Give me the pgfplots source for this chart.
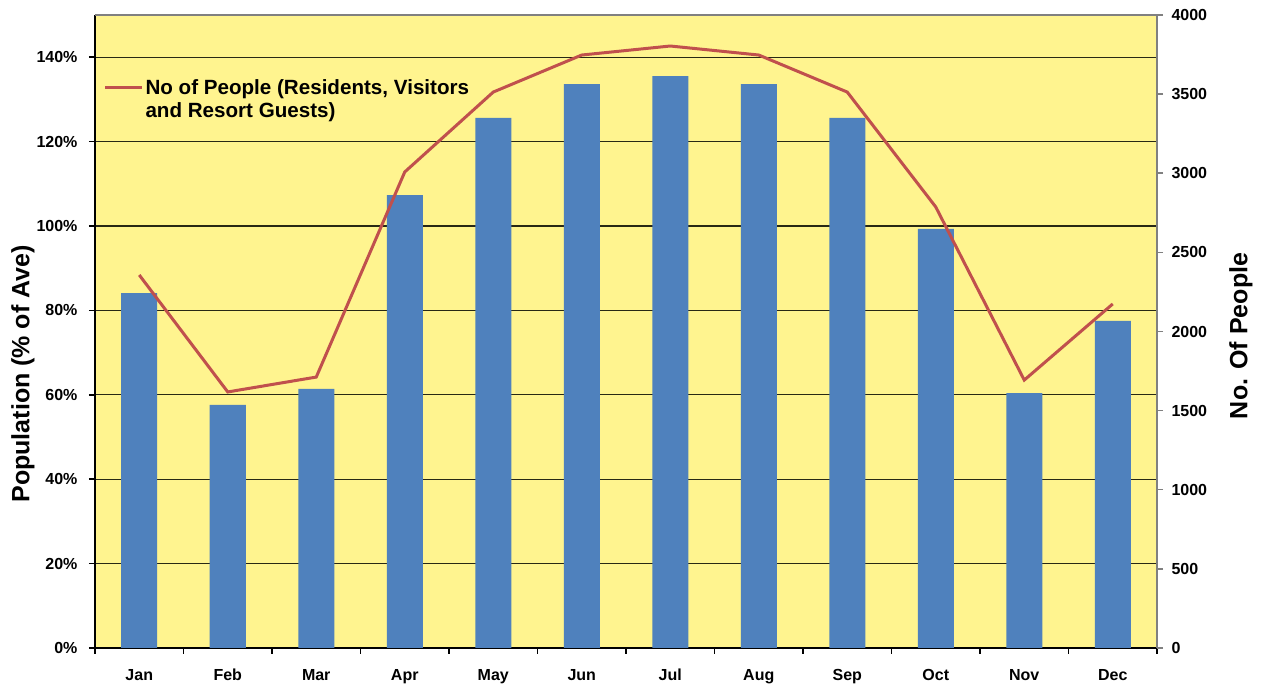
\documentclass[border=0pt]{standalone}
\usepackage{pgfplots}
\pgfplotsset{compat=1.18}
\usepackage{fontspec}
\setmainfont{Liberation Sans}
\definecolor{bgy}{RGB}{255,244,143}
\definecolor{barblue}{RGB}{79,129,189}
\definecolor{linered}{RGB}{192,80,77}
\definecolor{gridc}{RGB}{40,40,20}
\begin{document}
\begin{tikzpicture}
\path[use as bounding box] (-95pt,-36pt) rectangle (1171pt,648pt);
\begin{axis}[
  at={(0pt,0pt)}, anchor=south west,
  scale only axis, width=1062pt, height=633pt,
  xmin=-0.5, xmax=11.5, ymin=0, ymax=150,
  axis x line*=bottom, axis y line*=left,
  axis line style={line width=2.5pt, black, -},
  axis background/.style={fill=bgy},
  xtick={-0.5,0.5,...,11.5},
  x tick label as interval,
  xticklabels={Jan,Feb,Mar,Apr,May,Jun,Jul,Aug,Sep,Oct,Nov,Dec},
  ytick={0,20,...,140},
  yticklabels={0\%,20\%,40\%,60\%,80\%,100\%,120\%,140\%},
  tick align=outside, major tick length=6pt,
  tick style={black, line width=1.5pt},
  ymajorgrids, major grid style={gridc, line width=1.3pt},
  tick label style={font=\fontsize{16}{19}\selectfont\bfseries},
  yticklabel style={xshift=-8pt},
  xticklabel style={yshift=-11pt, text height=12pt, text depth=3pt},
  ylabel={Population (\% of Ave)},
  ylabel style={at={(rel axis cs:-0.0678,0.433)}, anchor=center, font=\fontsize{25}{30}\selectfont\bfseries},
]
\addplot[ybar, bar width=36pt, fill=barblue, draw=none] coordinates {
(0,84.1) (1,57.6) (2,61.4) (3,107.3) (4,125.6) (5,133.6) (6,135.5) (7,133.6) (8,125.6) (9,99.3) (10,60.4) (11,77.5)};
\end{axis}
\begin{axis}[
  at={(0pt,0pt)}, anchor=south west,
  scale only axis, width=1062pt, height=633pt,
  xmin=-0.5, xmax=11.5, ymin=0, ymax=4000,
  axis x line*=top, axis y line*=right,
  x axis line style={line width=1.2pt, gray, -},
  y axis line style={line width=2pt, gray, -},
  xtick=\empty,
  ytick={0,500,...,4000},
  yticklabels={0,500,1000,1500,2000,2500,3000,3500,4000},
  tick align=outside, major tick length=6pt,
  tick style={gray, line width=1.5pt},
  tick label style={font=\fontsize{16}{19}\selectfont\bfseries},
  yticklabel style={xshift=5pt},
  ylabel={No. Of People},
  ylabel style={at={(rel axis cs:1.079,0.493)}, anchor=center, font=\fontsize{25}{30}\selectfont\bfseries},
  legend style={at={(rel axis cs:0.005,0.905)}, anchor=north west, draw=none, fill=none,
    font=\fontsize{20.6}{23}\selectfont\bfseries, nodes={align=left}},
  legend cell align=left,
  legend image code/.code={\draw[#1] (0pt,12pt) -- (37pt,12pt);},
]
\addplot[linered, line width=3pt] coordinates {
(0,2357) (1,1618) (2,1712) (3,3008) (4,3513) (5,3747) (6,3804) (7,3747) (8,3513) (9,2787) (10,1693) (11,2174)};
\addlegendentry{No of People (Residents, Visitors\\and Resort Guests)}
\end{axis}
\end{tikzpicture}
\end{document}
